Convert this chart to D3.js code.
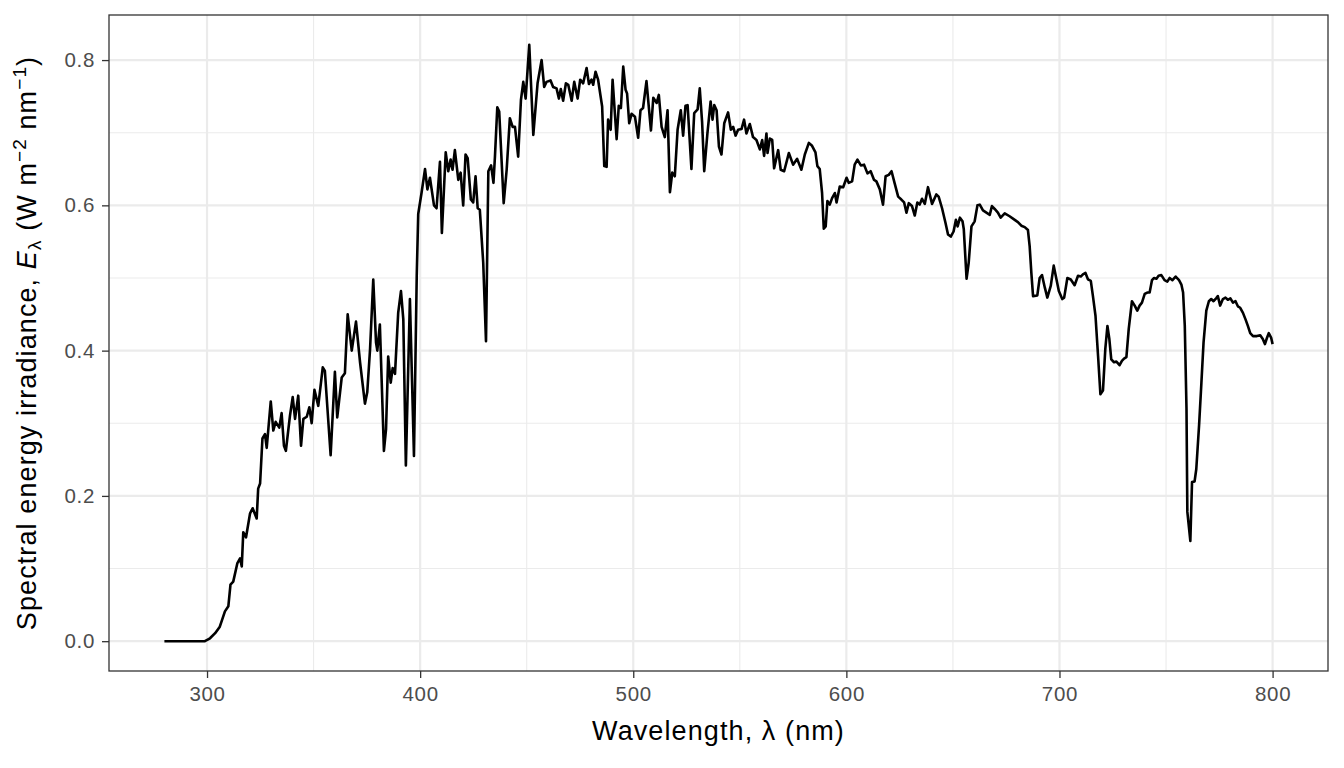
<!DOCTYPE html>
<html lang="en">
<head>
<meta charset="UTF-8">
<script src="https://cdn.jsdelivr.net/npm/d3@7"></script>
<title>Solar spectrum</title>
<style>
  body { margin: 0; background: white; }
  text { font-family: "Liberation Sans", Arial, sans-serif; }
  .tick text { fill: #4d4d4d; font-size: 20.5px; letter-spacing: 0.7px; }
  .tick line { stroke: #333333; stroke-width: 1.3px; }
  .domain { display: none; }
</style>
</head>
<body>
<script>
// wavelength (nm) and spectral irradiance (W m-2 nm-1)
const wavelength = [
  280, 299, 301.4, 303.8, 306, 308.4, 310, 311, 312.3, 314.2, 315.5, 316.3, 317, 318.3, 320.2, 321.4, 323.3, 324, 324.9, 326,
  327.2, 328, 329.9, 331.1, 332.2, 333.9, 335, 336.1, 337, 338.9, 340.2, 341.3, 342.8, 344.1, 345.2, 346.8, 348, 349.1, 350.4, 352.2,
  354.3, 355.3, 358, 360, 361.1, 363.2, 364.7, 366, 367.9, 369.9, 371.8, 374.1, 375.2, 376.5, 378, 379.3, 379.9, 381.1, 383, 384,
  385, 386.2, 387.1, 388.2, 389.7, 391, 392.1, 393.3, 395.2, 397.1, 398.4, 399.1, 400.7, 402.3, 403.4, 404.6, 406.5, 407.7, 409.3, 410.2,
  412, 413.2, 414.3, 415.2, 416.3, 417.9, 419, 420.2, 421.3, 422.3, 423.8, 424.9, 426, 427, 428, 429.6, 430.9, 432, 433.3, 434.4,
  435.1, 436.2, 437.1, 439.2, 440.6, 442.1, 443.4, 444.5, 446, 447.3, 448.4, 449.5, 451.2, 453.1, 455.1, 457, 458.2, 459.3, 461.2, 462.4,
  464, 465.1, 466, 467.1, 468.4, 469.5, 471.1, 472.3, 473.9, 475.1, 476.5, 478.1, 479.2, 480.4, 481.2, 482.3, 483.5, 485.4, 486.4, 487.5,
  488.2, 489.4, 490.3, 492.2, 493.2, 494.2, 495.3, 496.4, 497.1, 498.1, 499.2, 500.8, 502.3, 503.4, 504.6, 506.2, 508.3, 509.4, 511, 512,
  513.3, 514.8, 516.1, 517.2, 518.3, 519.5, 520.8, 522.3, 523.4, 524.5, 525.5, 527.3, 528.6, 530.2, 531.2, 532.3, 533.3, 534.8, 536.3, 537.2,
  538, 539.1, 540.2, 541.4, 542.7, 544.5, 545.8, 546.9, 548, 549.2, 550.8, 552, 553.1, 554.7, 556.2, 557.8, 559.4, 560.5, 561.4, 562.5,
  563, 564.1, 565.2, 566.1, 568, 569.2, 570.8, 573, 575, 576.9, 578.9, 580.5, 582.4, 583.9, 585.5, 586.4, 587.5, 588.6, 589.4, 590.3,
  591.1, 592.2, 593.3, 594.6, 595.4, 596.9, 598.5, 600.1, 601.1, 602.7, 603.9, 605.2, 606.8, 608.3, 609.9, 611.4, 613, 614.1, 615.7, 617.2,
  618.4, 619.9, 621.2, 622.7, 624.3, 625.8, 627.1, 628.2, 629.3, 630.8, 632.1, 633.3, 634.4, 635.5, 636.8, 638.3, 640.2, 642.2, 643.3, 644.9,
  646.5, 647.7, 649, 650.3, 651.4, 652.2, 653.3, 654.5, 655.1, 656.4, 657.4, 658.7, 660.2, 661.5, 662.6, 664.1, 665.7, 667.3, 668.3, 669.6,
  671.1, 672.4, 674.3, 676.6, 679, 680.5, 682.1, 683.7, 685.2, 686, 686.8, 687.6, 689.6, 690.7, 691.8, 693.1, 694.3, 695.9, 697.3, 698.6,
  699.7, 701.3, 702.2, 703.7, 705.3, 707.1, 708.7, 710, 711, 712.2, 713.4, 714.7, 715.7, 716.9, 718.1, 719.2, 720.4, 721.5, 722.5, 723.4,
  724.3, 725.6, 726.7, 728.2, 729.3, 730.3, 731.4, 732.5, 734, 735.3, 736.5, 737.6, 738.7, 740, 741.2, 742.3, 743.4, 744.4, 745.5, 746.5,
  747.8, 749.3, 750.6, 751.7, 753, 754.5, 756.1, 757.2, 758, 758.8, 759.6, 760, 761.4, 762.2, 763.4, 764.2, 765.5, 766.6, 767.6, 768.9,
  770.1, 771.2, 772.3, 773.5, 774.3, 775.4, 776.7, 777.9, 779, 780.2, 781.4, 782.6, 783.7, 784.8, 786.1, 787.3, 788.4, 789.5, 790.8, 792.6,
  794.2, 795.4, 796.4, 797.3, 798.2, 799.3, 800
];
const irradiance = [
  0, 0, 0.004, 0.011, 0.020, 0.041, 0.048, 0.078, 0.082, 0.107, 0.114, 0.103, 0.150, 0.143, 0.176, 0.183, 0.169, 0.210, 0.217, 0.279,
  0.285, 0.266, 0.330, 0.290, 0.302, 0.294, 0.314, 0.269, 0.262, 0.310, 0.336, 0.306, 0.338, 0.269, 0.306, 0.309, 0.322, 0.300, 0.346, 0.324,
  0.377, 0.372, 0.256, 0.371, 0.308, 0.363, 0.369, 0.450, 0.400, 0.440, 0.384, 0.327, 0.343, 0.402, 0.498, 0.411, 0.400, 0.436, 0.262, 0.292,
  0.392, 0.356, 0.376, 0.368, 0.452, 0.482, 0.443, 0.242, 0.471, 0.255, 0.503, 0.588, 0.618, 0.650, 0.622, 0.638, 0.600, 0.596, 0.660, 0.562,
  0.673, 0.647, 0.663, 0.649, 0.676, 0.635, 0.645, 0.600, 0.670, 0.665, 0.608, 0.604, 0.640, 0.596, 0.594, 0.521, 0.413, 0.647, 0.655, 0.631,
  0.667, 0.735, 0.729, 0.603, 0.649, 0.720, 0.708, 0.708, 0.667, 0.745, 0.770, 0.747, 0.821, 0.697, 0.768, 0.800, 0.763, 0.770, 0.772, 0.763,
  0.761, 0.747, 0.760, 0.744, 0.768, 0.766, 0.744, 0.770, 0.747, 0.773, 0.768, 0.789, 0.767, 0.773, 0.766, 0.784, 0.773, 0.736, 0.654, 0.653,
  0.718, 0.704, 0.773, 0.691, 0.737, 0.734, 0.791, 0.759, 0.754, 0.713, 0.726, 0.722, 0.693, 0.731, 0.734, 0.771, 0.703, 0.748, 0.741, 0.752,
  0.708, 0.694, 0.731, 0.618, 0.645, 0.640, 0.704, 0.731, 0.696, 0.737, 0.738, 0.650, 0.727, 0.732, 0.761, 0.715, 0.647, 0.699, 0.743, 0.718,
  0.738, 0.731, 0.681, 0.670, 0.713, 0.728, 0.704, 0.708, 0.696, 0.704, 0.705, 0.718, 0.699, 0.712, 0.694, 0.690, 0.677, 0.690, 0.668, 0.699,
  0.672, 0.692, 0.690, 0.651, 0.676, 0.649, 0.647, 0.672, 0.656, 0.664, 0.649, 0.670, 0.686, 0.682, 0.673, 0.654, 0.650, 0.617, 0.568, 0.571,
  0.606, 0.601, 0.610, 0.617, 0.604, 0.626, 0.625, 0.638, 0.631, 0.633, 0.656, 0.663, 0.655, 0.656, 0.644, 0.647, 0.635, 0.633, 0.622, 0.601,
  0.640, 0.642, 0.647, 0.630, 0.612, 0.608, 0.604, 0.590, 0.603, 0.599, 0.586, 0.604, 0.601, 0.609, 0.602, 0.625, 0.602, 0.615, 0.612, 0.596,
  0.576, 0.560, 0.557, 0.564, 0.580, 0.571, 0.583, 0.578, 0.567, 0.499, 0.521, 0.571, 0.578, 0.600, 0.601, 0.593, 0.590, 0.587, 0.599, 0.595,
  0.590, 0.583, 0.589, 0.585, 0.580, 0.577, 0.572, 0.570, 0.566, 0.544, 0.507, 0.475, 0.476, 0.500, 0.504, 0.487, 0.473, 0.489, 0.517, 0.498,
  0.482, 0.471, 0.473, 0.500, 0.498, 0.490, 0.503, 0.502, 0.505, 0.507, 0.498, 0.496, 0.475, 0.448, 0.393, 0.340, 0.345, 0.402, 0.434, 0.416,
  0.388, 0.384, 0.385, 0.380, 0.386, 0.389, 0.391, 0.430, 0.468, 0.462, 0.455, 0.462, 0.466, 0.478, 0.480, 0.480, 0.497, 0.500, 0.499, 0.503,
  0.504, 0.497, 0.495, 0.500, 0.497, 0.502, 0.497, 0.491, 0.480, 0.434, 0.320, 0.178, 0.138, 0.219, 0.220, 0.237, 0.297, 0.356, 0.411, 0.455,
  0.468, 0.471, 0.468, 0.472, 0.475, 0.462, 0.471, 0.473, 0.470, 0.472, 0.466, 0.468, 0.461, 0.459, 0.452, 0.443, 0.434, 0.424, 0.420, 0.420,
  0.421, 0.416, 0.409, 0.417, 0.424, 0.418, 0.409
];

const xBreaks = [300, 400, 500, 600, 700, 800];
const xMinorBreaks = [350, 450, 550, 650, 750];
const yBreaks = [0, 0.2, 0.4, 0.6, 0.8];
const yMinorBreaks = [0.1, 0.3, 0.5, 0.7];

const width = 1344, height = 768;
const margin = { top: 15, right: 16, bottom: 97, left: 109 };

const data = wavelength.map((w, i) => ({ w: w, e: irradiance[i] }));

// ggplot style 5% expansion on both axes
const xExt = d3.extent(wavelength), yExt = d3.extent(irradiance);
const xPad = (xExt[1] - xExt[0]) * 0.05, yPad = (yExt[1] - yExt[0]) * 0.05;

const x = d3.scaleLinear()
  .domain([xExt[0] - xPad, xExt[1] + xPad])
  .range([margin.left, width - margin.right]);
const y = d3.scaleLinear()
  .domain([yExt[0] - yPad, yExt[1] + yPad])
  .range([height - margin.bottom, margin.top]);

const svg = d3.select("body").append("svg")
  .attr("width", width)
  .attr("height", height);

// grid
const grid = svg.append("g");
grid.selectAll(".xminor").data(xMinorBreaks).enter().append("line")
  .attr("x1", d => x(d)).attr("x2", d => x(d))
  .attr("y1", margin.top).attr("y2", height - margin.bottom)
  .attr("stroke", "#ebebeb").attr("stroke-width", 1.1);
grid.selectAll(".yminor").data(yMinorBreaks).enter().append("line")
  .attr("x1", margin.left).attr("x2", width - margin.right)
  .attr("y1", d => y(d)).attr("y2", d => y(d))
  .attr("stroke", "#ebebeb").attr("stroke-width", 1.1);
grid.selectAll(".xmajor").data(xBreaks).enter().append("line")
  .attr("x1", d => x(d)).attr("x2", d => x(d))
  .attr("y1", margin.top).attr("y2", height - margin.bottom)
  .attr("stroke", "#ebebeb").attr("stroke-width", 2.2);
grid.selectAll(".ymajor").data(yBreaks).enter().append("line")
  .attr("x1", margin.left).attr("x2", width - margin.right)
  .attr("y1", d => y(d)).attr("y2", d => y(d))
  .attr("stroke", "#ebebeb").attr("stroke-width", 2.2);

// spectrum
const line = d3.line().x(d => x(d.w)).y(d => y(d.e));
svg.append("path")
  .datum(data)
  .attr("d", line)
  .attr("fill", "none")
  .attr("stroke", "black")
  .attr("stroke-width", 2.6)
  .attr("stroke-linejoin", "round");

// panel border
svg.append("rect")
  .attr("x", margin.left).attr("y", margin.top)
  .attr("width", width - margin.left - margin.right)
  .attr("height", height - margin.top - margin.bottom)
  .attr("fill", "none")
  .attr("stroke", "#333333")
  .attr("stroke-width", 1.3);

// axes
svg.append("g")
  .attr("transform", `translate(0,${height - margin.bottom})`)
  .call(d3.axisBottom(x).tickValues(xBreaks).tickSize(7).tickPadding(8).tickFormat(d3.format("d")));
svg.append("g")
  .attr("transform", `translate(${margin.left},0)`)
  .call(d3.axisLeft(y).tickValues(yBreaks).tickSize(7).tickPadding(7).tickFormat(d3.format(".1f")));

// axis titles
svg.append("text")
  .attr("x", (margin.left + width - margin.right) / 2)
  .attr("y", 740)
  .attr("text-anchor", "middle")
  .attr("font-size", 27)
  .attr("letter-spacing", 1.1)
  .text("Wavelength, λ (nm)");

const yt = svg.append("text")
  .attr("transform", `translate(36,${(margin.top + height - margin.bottom) / 2}) rotate(-90)`)
  .attr("text-anchor", "middle")
  .attr("font-size", 27)
  .attr("letter-spacing", 1.1);
yt.append("tspan").text("Spectral energy irradiance, ");
yt.append("tspan").attr("font-style", "italic").text("E");
yt.append("tspan").attr("font-size", 19).attr("dy", 5).text("λ");
yt.append("tspan").attr("dy", -5).text(" (W m");
yt.append("tspan").attr("font-size", 19).attr("dy", -10).text("−2");
yt.append("tspan").attr("dy", 10).text(" nm");
yt.append("tspan").attr("font-size", 19).attr("dy", -10).text("−1");
yt.append("tspan").attr("dy", 10).text(")");
</script>
</body>
</html>
